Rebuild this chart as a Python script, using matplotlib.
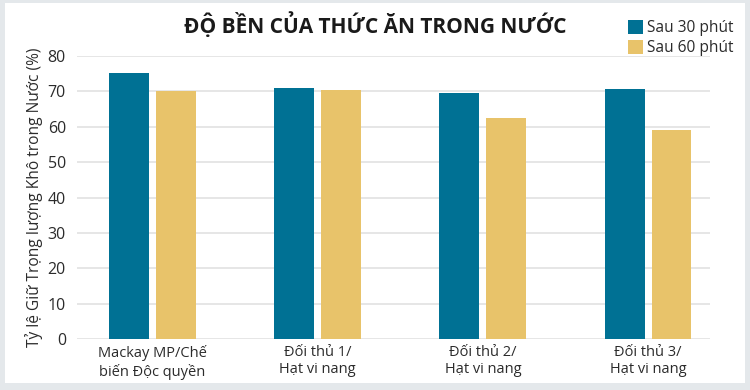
import matplotlib
matplotlib.use("Agg")
import matplotlib.pyplot as plt
from matplotlib.patches import Rectangle
import numpy as np

categories = ["Mackay MP/Chế\nbiến Độc quyền", "Đối thủ 1/\nHạt vi nang",
              "Đối thủ 2/\nHạt vi nang", "Đối thủ 3/\nHạt vi nang"]
series_names = ["Sau 30 phút", "Sau 60 phút"]
after_30 = [75.2, 71.0, 69.6, 70.6]
after_60 = [70.0, 70.5, 62.4, 59.0]
yticks = [0, 10, 20, 30, 40, 50, 60, 70, 80]
title = "ĐỘ BỀN CỦA THỨC ĂN TRONG NƯỚC"
ylabel = "Tỷ lệ Giữ Trọng lượng Khô trong Nước (%)"

plt.rcParams['font.family'] = ['Open Sans', 'DejaVu Sans']
TEXT = "#2b2b2b"
BLUE = "#007194"
GOLD = "#e8c36a"

fig = plt.figure(figsize=(7.5, 3.9), dpi=100)
fig.patch.set_facecolor("#e4e8eb")
# white panel
fig.patches.append(Rectangle((5/750, 7/390), 740/750, 380/390, transform=fig.transFigure,
                             facecolor="white", edgecolor="none", zorder=-5))

ax = fig.add_axes([77/750, 1-339/390, 633/750, (339-56)/390])
ax.set_zorder(2)
ax.set_facecolor("none")
x = np.arange(len(categories))
w = 0.242
off = 0.142
b1 = ax.bar(x - off, after_30, w, color=BLUE, zorder=3, label=series_names[0])
b2 = ax.bar(x + off, after_60, w, color=GOLD, zorder=3, label=series_names[1])
ax.set_xlim(-0.457, 3.375)
ax.set_ylim(0, 80)
ax.set_yticks(yticks)
ax.yaxis.grid(True, color="#e2e2e2", linewidth=1.2, zorder=0)
ax.set_axisbelow(True)
for s in ax.spines.values():
    s.set_visible(False)
ax.tick_params(axis="both", length=0, colors=TEXT)
ax.tick_params(axis="y", pad=8, labelsize=11.5)
ax.tick_params(axis="x", pad=4, labelsize=10.5)
ax.set_xticks(x)
ax.set_xticklabels(categories, linespacing=1.25)
ax.set_ylabel(ylabel, fontsize=11.2, color=TEXT, labelpad=3)

fig.text(375/750, 1-25/390, title, ha="center", va="center", fontsize=15,
         fontweight="bold", color="#1a1a1a", zorder=3)

leg = fig.legend(handles=[b1, b2], labels=series_names, loc="upper left",
                 bbox_to_anchor=(617/750, 1-9/390), frameon=False, fontsize=11.2,
                 handlelength=1.0, handleheight=1.0, handletextpad=0.25,
                 labelspacing=0.22, borderpad=0.2, labelcolor=TEXT)
leg.set_zorder(3)

fig.savefig("out.png", dpi=100, facecolor=fig.get_facecolor())
